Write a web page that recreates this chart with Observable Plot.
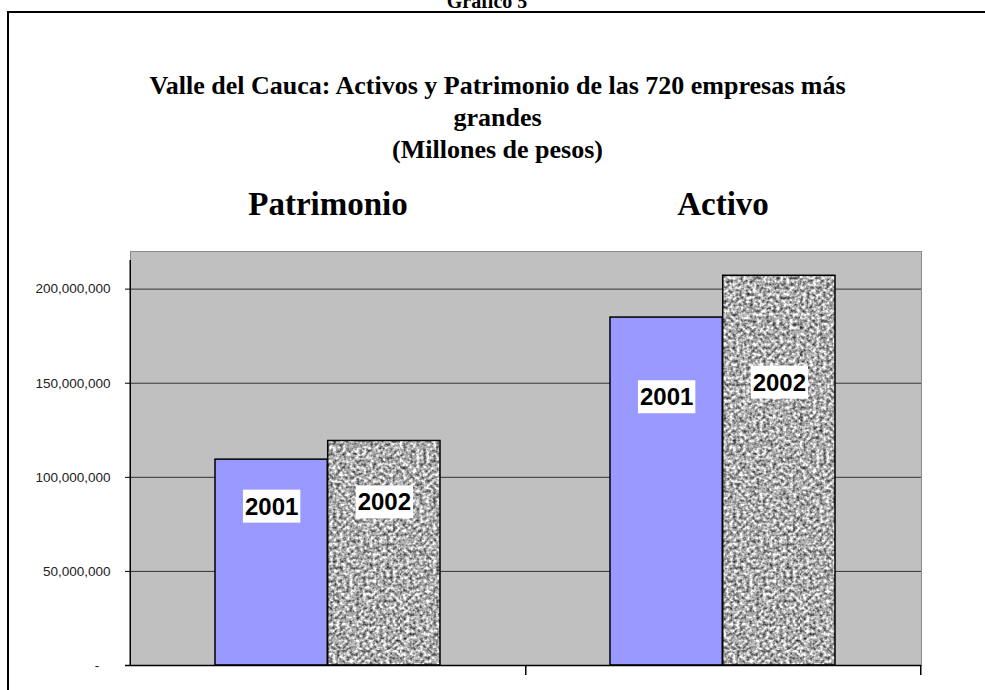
<!DOCTYPE html>
<html><head><meta charset="utf-8">
<script src="https://cdn.jsdelivr.net/npm/d3@7"></script>
<script src="https://cdn.jsdelivr.net/npm/@observablehq/plot@0.6"></script>
<style>
html,body{margin:0;padding:0;background:#fff;}
body{width:985px;height:690px;overflow:hidden;position:relative;}
#gr{position:absolute;left:0;width:974px;top:-9px;text-align:center;font:bold 20px/20px "Liberation Serif",serif;color:#000;}
#frame{position:absolute;left:7px;top:11px;width:1000px;height:700px;border-left:2px solid #000;border-top:2px solid #000;}
#title{position:absolute;left:0;width:995px;top:70px;text-align:center;font:bold 26px/32px "Liberation Serif",serif;color:#000;}
#chart{position:absolute;left:0;top:150px;}
</style></head>
<body>
<div id="gr">Gráfico 5</div>
<div id="frame"></div>
<div id="title">Valle del Cauca: Activos y Patrimonio de las 720 empresas más<br>grandes<br>(Millones de pesos)</div>
<div id="chart"></div>
<script>
const categories = ["Patrimonio", "Activo"];
const years = ["2001", "2002"];
const values2001 = [109.4e6, 184.9e6];
const values2002 = [119.3e6, 207.1e6];
const yTicks = [0, 50e6, 100e6, 150e6, 200e6];
const yMax = 220e6;

const rows2001 = categories.map((c, i) => ({category: c, year: years[0], value: values2001[i]}));
const rows2002 = categories.map((c, i) => ({category: c, year: years[1], value: values2002[i]}));

const W = 985, H = 540;
const mL = 130, mR = 64, mT = 101, mB = 25;
const pI = 0.43, pO = 0.215;
const step = (W - mL - mR) / (categories.length - pI + 2 * pO);
const bw = step * (1 - pI);

const defs = () => {
  const ns = "http://www.w3.org/2000/svg";
  const g = document.createElementNS(ns, "defs");
  g.innerHTML = `
    <filter id="noiseF" x="0" y="0" width="100%" height="100%" color-interpolation-filters="sRGB">
      <feTurbulence type="fractalNoise" baseFrequency="0.3" numOctaves="2" seed="11"/>
      <feColorMatrix type="matrix" values="1.4 0 0 0 -0.02  1.4 0 0 0 -0.02  1.4 0 0 0 -0.02  0 0 0 0 1"/>
    </filter>
    <pattern id="granite" patternUnits="userSpaceOnUse" x="0" y="0" width="400" height="500">
      <rect width="400" height="500" fill="#aaa" filter="url(#noiseF)"/>
    </pattern>`;
  return g;
};

const chart = Plot.plot({
  width: W, height: H,
  marginLeft: mL, marginRight: mR, marginTop: mT, marginBottom: mB,
  style: {fontFamily: "'Liberation Sans', Arial, sans-serif", background: "transparent"},
  x: {domain: categories, paddingInner: pI, paddingOuter: pO, axis: null},
  y: {domain: [0, yMax], axis: null},
  marks: [
    defs,
    Plot.frame({fill: "#c0c0c0", stroke: "#8a8a8a"}),
    Plot.gridY(yTicks.filter(d => d > 0), {stroke: "#333", strokeOpacity: 1, strokeWidth: 1}),
    Plot.axisY(yTicks, {
      tickSize: 5, tickPadding: 15, fontSize: 13.5, fill: "#222", stroke: "#000",
      tickFormat: d => d === 0 ? "-\u00a0\u00a0\u00a0" : d3.format(",")(d), label: null
    }),
    Plot.barY(rows2001, {x: "category", y: "value", fill: "#9999ff", stroke: "#000", strokeWidth: 1.5, insetRight: bw / 2}),
    Plot.barY(rows2002, {x: "category", y: "value", fill: "url(#granite)", stroke: "#000", strokeWidth: 1.5, insetLeft: bw / 2}),
    Plot.ruleY([0], {stroke: "#000", strokeWidth: 1.5, insetLeft: -5}),
    Plot.ruleX([categories[0]], {x: d => d, y1: 0, y2: yMax, dx: -step / 2, stroke: "#000", strokeWidth: 1.5, insetBottom: -9}),
    Plot.ruleX(categories, {x: d => d, y1: 0, y2: 0, dx: step / 2, stroke: "#000", strokeWidth: 1.5, insetBottom: -10}),
    Plot.text(categories, {x: d => d, frameAnchor: "top", lineAnchor: "bottom", dy: -37,
      fontSize: 33, fontWeight: "bold", fontFamily: "'Liberation Serif', serif", fill: "#000"}),
    Plot.text(rows2001, {x: "category", y: d => d.value * 0.77, text: "year", dx: -bw / 4,
      fontSize: 24, fontWeight: "bold", fill: "#000"}),
    Plot.text(rows2002, {x: "category", y: d => d.value * 0.725, text: "year", dx: bw / 4,
      fontSize: 24, fontWeight: "bold", fill: "#000"})
  ]
});
document.getElementById("chart").appendChild(chart);

// white boxes behind the year labels
const ns = "http://www.w3.org/2000/svg";
chart.querySelectorAll("text").forEach(t => {
  if (!years.includes(t.textContent)) return;
  const b = t.getBBox();
  const r = document.createElementNS(ns, "rect");
  r.setAttribute("x", b.x - 2);
  r.setAttribute("y", b.y - 3);
  r.setAttribute("width", b.width + 4);
  r.setAttribute("height", b.height + 6);
  r.setAttribute("fill", "#fff");
  if (t.getAttribute("transform")) r.setAttribute("transform", t.getAttribute("transform"));
  t.parentNode.insertBefore(r, t);
});
</script>
</body></html>
